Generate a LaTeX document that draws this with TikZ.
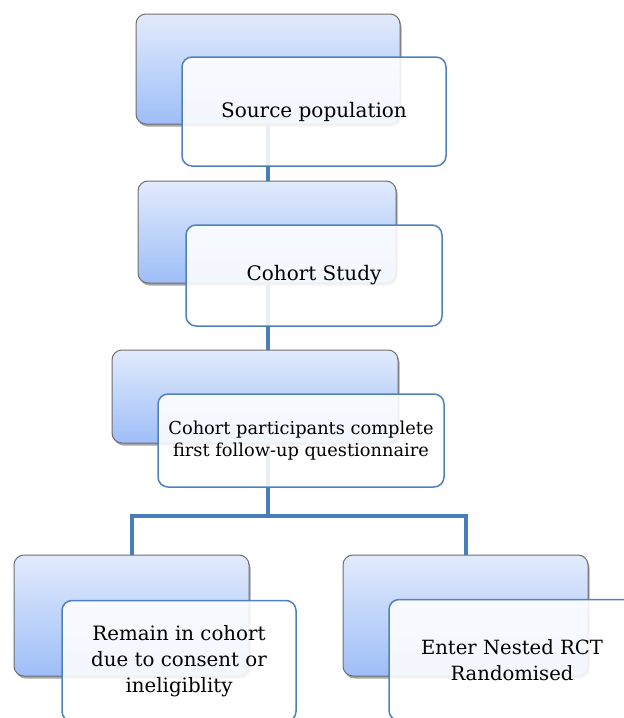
\documentclass[tikz,border=0pt]{standalone}
\usepackage{fontspec}
\setmainfont{DejaVu Serif}
\usetikzlibrary{shadows}
\definecolor{bgtop}{RGB}{226,235,252}
\definecolor{bgbot}{RGB}{158,190,248}
\definecolor{bgborder}{RGB}{110,110,110}
\definecolor{fgborder}{RGB}{79,129,189}
\definecolor{conncol}{RGB}{74,126,187}
\begin{document}
\begin{tikzpicture}[x=1pt,y=1pt,
  backbox/.style={draw=bgborder, line width=1pt, rounded corners=10pt,
    top color=bgtop, bottom color=bgbot,
    drop shadow={shadow xshift=1.5pt, shadow yshift=-2.5pt, opacity=0.35, fill=black}},
  frontbox/.style={draw=fgborder, line width=1.5pt, rounded corners=10pt,
    fill=white, fill opacity=0.88, text opacity=1, draw opacity=1,
    align=center, inner sep=0pt},
  conn/.style={draw=conncol, line width=4pt, line join=miter}]
\useasboundingbox (0,0) rectangle (624,-718);
\clip (0,0) rectangle (624,-718);
% back boxes
\node[backbox, minimum width=264pt, minimum height=110pt] (b1) at (268,-69) {};
\node[backbox, minimum width=258pt, minimum height=102pt] (b2) at (267,-232) {};
\node[backbox, minimum width=286pt, minimum height=93pt] (b3) at (255,-396.5) {};
\node[backbox, minimum width=235pt, minimum height=121pt] (b4) at (131.5,-615.5) {};
\node[backbox, minimum width=245pt, minimum height=121pt] (b5) at (465.5,-615.5) {};
% connectors
\coordinate (split) at (268,-516);
\draw[conn] (b1.south) -- (b1.south |- b2.north);
\draw[conn] (b1.south |- b2.south) -- (b1.south |- b3.north);
\draw[conn] (b1.south |- b3.south) -- (split);
\draw[conn] (b4.north) -- (b4.north |- split) -- (b5.north |- split) -- (b5.north);
% front boxes
\node[frontbox, minimum width=264pt, minimum height=109pt, font=\fontsize{20}{24}\selectfont] (f1) at (314,-111.5) {Source population};
\node[frontbox, minimum width=256pt, minimum height=101pt, font=\fontsize{20}{24}\selectfont] (f2) at (314,-275.5) {Cohort Study};
\node[frontbox, minimum width=286pt, minimum height=93pt, font=\fontsize{17.8}{21.5}\selectfont] (f3) at (301,-440.5) {Cohort participants complete\\first follow-up questionnaire};
\node[frontbox, minimum width=234pt, minimum height=121pt, font=\fontsize{19.8}{26}\selectfont] (f4) at (179,-661) {Remain in cohort\\due to consent or\\ineligiblity};
\node[frontbox, minimum width=246pt, minimum height=121pt, font=\fontsize{19.6}{26}\selectfont] (f5) at (512,-660) {Enter Nested RCT\\Randomised};
\end{tikzpicture}
\end{document}
